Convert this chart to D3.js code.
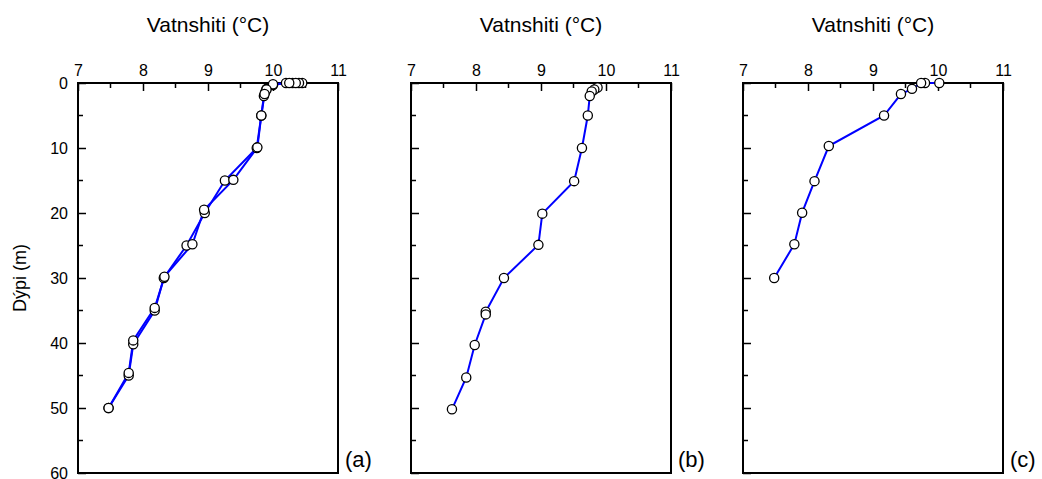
<!DOCTYPE html>
<html>
<head>
    <meta charset="utf-8">
    <title>Vatnshiti profiles</title>
    <script src="https://d3js.org/d3.v7.min.js"></script>
    <style>
        body { margin: 0; background: #fff; }
        svg { display: block; font-family: "Liberation Sans", Arial, sans-serif; }
    </style>
</head>
<body>
<div id="chart"></div>
<script>
    // Temperature (°C) and depth (m)
    const tempTicks = [7, 8, 9, 10, 11];
    const depthTicks = [0, 10, 20, 30, 40, 50, 60];
    const panelLabels = ["(a)", "(b)", "(c)"];

    const a1Temp  = [10.45, 10.4, 10.3, 10.2, 10.0, 9.9, 9.88, 9.86, 9.82, 9.75, 9.26, 8.95, 8.67, 8.32, 8.18, 7.85, 7.78, 7.47];
    const a1Depth = [0, 0, 0, 0, 0.3, 0.9, 1.4, 2.0, 5.0, 10.0, 15.0, 20.0, 25.0, 30.0, 35.0, 40.2, 45.0, 50.0];
    const a2Temp  = [10.35, 10.25, 10.0, 9.9, 9.87, 9.82, 9.76, 9.39, 8.94, 8.76, 8.33, 8.18, 7.85, 7.78, 7.47];
    const a2Depth = [0, 0, 0.2, 1.0, 1.7, 5.0, 9.9, 14.9, 19.5, 24.8, 29.8, 34.6, 39.6, 44.6, 50.0];

    const bTemp  = [9.87, 9.82, 9.78, 9.75, 9.72, 9.63, 9.51, 9.02, 8.96, 8.43, 8.15, 8.15, 7.98, 7.85, 7.63];
    const bDepth = [0.7, 1.0, 1.3, 2.0, 5.0, 10.0, 15.1, 20.1, 24.9, 30.0, 35.2, 35.6, 40.3, 45.3, 50.2];

    const cTemp  = [10.02, 9.8, 9.74, 9.6, 9.43, 9.17, 8.32, 8.10, 7.91, 7.79, 7.48];
    const cDepth = [0, 0, 0, 0.9, 1.7, 5.0, 9.7, 15.1, 19.95, 24.8, 30.0];

    const panels = [
        [d3.zip(a1Temp, a1Depth), d3.zip(a2Temp, a2Depth)],
        [d3.zip(bTemp, bDepth)],
        [d3.zip(cTemp, cDepth)]
    ];

    const width = 1042, height = 479;
    const panelLeft = [78, 411, 743];
    const panelW = 260;
    const plotTop = 83, plotBottom = 473;

    const svg = d3.select("#chart").append("svg")
        .attr("width", width)
        .attr("height", height);

    const y = d3.scaleLinear().domain([0, 60]).range([plotTop, plotBottom]);

    panels.forEach((series, i) => {
        const x = d3.scaleLinear().domain([7, 11]).range([panelLeft[i], panelLeft[i] + panelW]);
        const g = svg.append("g");

        // minor ticks
        g.append("g").selectAll("line")
            .data(d3.range(7.5, 11, 1))
            .join("line")
            .attr("x1", d => x(d)).attr("x2", d => x(d))
            .attr("y1", plotTop).attr("y2", plotTop + 5)
            .attr("stroke", "#000").attr("stroke-width", 1.5);
        g.append("g").selectAll("line")
            .data(d3.range(5, 60, 10))
            .join("line")
            .attr("x1", panelLeft[i]).attr("x2", panelLeft[i] + 5)
            .attr("y1", d => y(d)).attr("y2", d => y(d))
            .attr("stroke", "#000").attr("stroke-width", 1.5);

        // top axis, ticks pointing inward
        const xAxis = g.append("g")
            .attr("transform", `translate(0,${plotTop})`)
            .call(d3.axisTop(x).tickValues(tempTicks).tickFormat(d3.format("d")).tickSize(-8).tickPadding(7));
        xAxis.select(".domain").remove();
        xAxis.selectAll(".tick line").attr("stroke-width", 1.5);
        xAxis.selectAll("text").attr("font-size", 16).attr("fill", "#000");

        const yAxis = g.append("g")
            .attr("transform", `translate(${panelLeft[i]},0)`)
            .call(d3.axisLeft(y).tickValues(depthTicks).tickSize(-8).tickPadding(10));
        yAxis.select(".domain").remove();
        yAxis.selectAll(".tick line").attr("stroke-width", 1.5);
        yAxis.selectAll("text").attr("font-size", 16).attr("fill", "#000");
        if (i > 0) yAxis.selectAll("text").remove();

        // frame
        g.append("rect")
            .attr("x", panelLeft[i]).attr("y", plotTop)
            .attr("width", panelW).attr("height", plotBottom - plotTop)
            .attr("fill", "none").attr("stroke", "#000").attr("stroke-width", 2);

        g.append("text")
            .attr("x", panelLeft[i] + panelW / 2).attr("y", 31.5)
            .attr("text-anchor", "middle").attr("font-size", 21)
            .text("Vatnshiti (°C)");

        g.append("text")
            .attr("x", panelLeft[i] + panelW + 7).attr("y", 467)
            .attr("font-size", 22)
            .text(panelLabels[i]);

        const line = d3.line().x(d => x(d[0])).y(d => y(d[1]));
        series.forEach(s => {
            g.append("path")
                .datum(s)
                .attr("d", line)
                .attr("fill", "none")
                .attr("stroke", "#0000ff")
                .attr("stroke-width", 2);
        });
        series.forEach(s => {
            g.append("g").selectAll("circle")
                .data(s)
                .join("circle")
                .attr("cx", d => x(d[0]))
                .attr("cy", d => y(d[1]))
                .attr("r", 4.6)
                .attr("fill", "#fff")
                .attr("stroke", "#000")
                .attr("stroke-width", 1.3);
        });
    });

    svg.append("text")
        .attr("transform", `translate(26,${(plotTop + plotBottom) / 2}) rotate(-90)`)
        .attr("text-anchor", "middle")
        .attr("font-size", 18)
        .text("Dýpi (m)");
</script>
</body>
</html>
